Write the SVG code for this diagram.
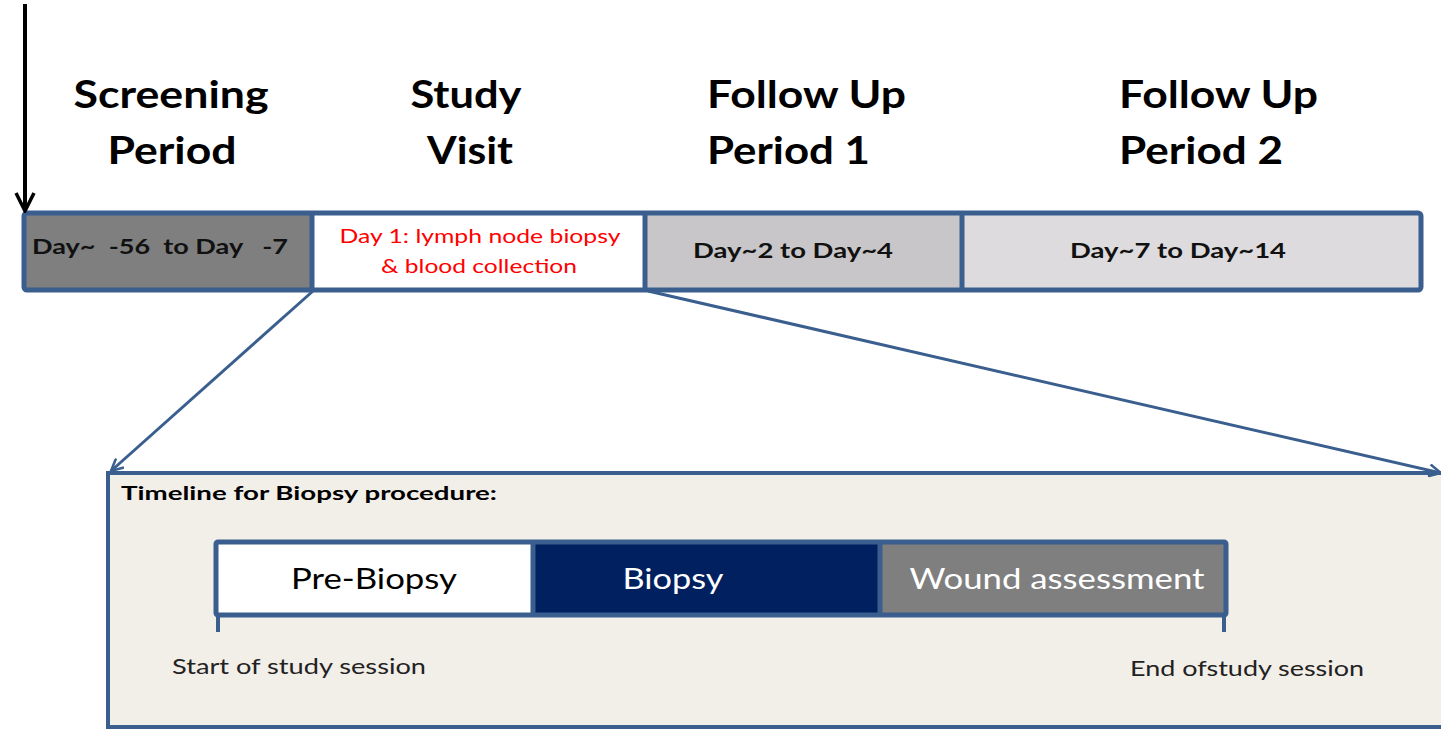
<svg xmlns="http://www.w3.org/2000/svg" width="1441" height="730" viewBox="0 0 1441 730">
  <style>
    .hdr { font-family: Lato, "Liberation Sans", sans-serif; font-weight: bold; font-size: 38px; fill: #000; }
    .bar { font-family: Lato, "Liberation Sans", sans-serif; font-weight: bold; font-size: 20px; fill: #111; }
    .red { font-family: Lato, "Liberation Sans", sans-serif; font-size: 19px; fill: #ff0000; }
    .seg { font-family: Lato, "Liberation Sans", sans-serif; font-size: 28px; }
    .note { font-family: Lato, "Liberation Sans", sans-serif; font-size: 21px; fill: #222; }
    .title { font-family: Lato, "Liberation Sans", sans-serif; font-weight: bold; font-size: 19px; fill: #000; }
    .blue { stroke: #3a5f8f; }
  </style>
  <defs>
    <marker id="openBlue" viewBox="0 0 14 14" refX="13" refY="7" markerWidth="14" markerHeight="14" markerUnits="userSpaceOnUse" orient="auto">
      <path d="M1,1 L13,7 L1,13" fill="none" stroke="#3a5f8f" stroke-width="2.5"/>
    </marker>
    <marker id="openBlack" viewBox="0 0 22 22" refX="20" refY="11" markerWidth="22" markerHeight="22" markerUnits="userSpaceOnUse" orient="auto">
      <path d="M2,2 L20,11 L2,20" fill="none" stroke="#000" stroke-width="3.5"/>
    </marker>
  </defs>
  <rect width="1441" height="730" fill="#ffffff"/>

  <!-- headers -->
  <g id="hdr-screening">
    <text class="hdr" x="171" y="108" text-anchor="middle" textLength="195" lengthAdjust="spacingAndGlyphs">Screening</text>
    <text class="hdr" x="172" y="164" text-anchor="middle" textLength="129" lengthAdjust="spacingAndGlyphs">Period</text>
  </g>
  <g id="hdr-study">
    <text class="hdr" x="466" y="108" text-anchor="middle" textLength="111" lengthAdjust="spacingAndGlyphs">Study</text>
    <text class="hdr" x="470" y="164" text-anchor="middle" textLength="86" lengthAdjust="spacingAndGlyphs">Visit</text>
  </g>
  <g id="hdr-fu1">
    <text class="hdr" x="707" y="108" textLength="199" lengthAdjust="spacingAndGlyphs">Follow Up</text>
    <text class="hdr" x="707" y="164" textLength="163" lengthAdjust="spacingAndGlyphs">Period 1</text>
  </g>
  <g id="hdr-fu2">
    <text class="hdr" x="1119" y="108" textLength="199" lengthAdjust="spacingAndGlyphs">Follow Up</text>
    <text class="hdr" x="1119" y="164" textLength="164" lengthAdjust="spacingAndGlyphs">Period 2</text>
  </g>

  <!-- top timeline bar -->
  <g id="seg-screening">
    <rect x="24" y="213" width="288" height="77" fill="#7f7f7f"/>
    <text class="bar" x="32" y="254" textLength="256" lengthAdjust="spacingAndGlyphs" xml:space="preserve">Day~  -56  to Day   -7</text>
  </g>
  <g id="seg-study">
    <rect x="312" y="213" width="333" height="77" fill="#ffffff"/>
    <text class="red" x="480" y="243" text-anchor="middle" textLength="281" lengthAdjust="spacingAndGlyphs">Day 1: lymph node biopsy</text>
    <text class="red" x="479" y="273" text-anchor="middle" textLength="196" lengthAdjust="spacingAndGlyphs">&amp; blood collection</text>
  </g>
  <g id="seg-fu1">
    <rect x="645" y="213" width="317" height="77" fill="#c8c6c8"/>
    <text class="bar" x="793" y="258" text-anchor="middle" textLength="200" lengthAdjust="spacingAndGlyphs">Day~2 to Day~4</text>
  </g>
  <g id="seg-fu2">
    <rect x="962" y="213" width="459" height="77" fill="#dddbde"/>
    <text class="bar" x="1178" y="258" text-anchor="middle" textLength="216" lengthAdjust="spacingAndGlyphs">Day~7 to Day~14</text>
  </g>
  <g id="bar-frame" fill="none" class="blue" stroke-width="5">
    <rect x="24" y="213" width="1397" height="77" rx="3"/>
    <line x1="312" y1="213" x2="312" y2="290"/>
    <line x1="645" y1="213" x2="645" y2="290"/>
    <line x1="962" y1="213" x2="962" y2="290"/>
  </g>

  <!-- detail box -->
  <g id="detail-box">
    <rect x="108" y="473" width="1340" height="254" fill="#f2eee8" class="blue" stroke-width="4"/>
    <text class="title" x="121" y="500" textLength="376" lengthAdjust="spacingAndGlyphs">Timeline for Biopsy procedure:</text>
  </g>
  <g id="pre-biopsy">
    <rect x="216" y="542" width="317" height="73" fill="#ffffff"/>
    <text class="seg" x="374" y="589" text-anchor="middle" fill="#000" textLength="166" lengthAdjust="spacingAndGlyphs">Pre-Biopsy</text>
  </g>
  <g id="biopsy">
    <rect x="533" y="542" width="347" height="73" fill="#002060"/>
    <text class="seg" x="673" y="589" text-anchor="middle" fill="#ffffff" textLength="101" lengthAdjust="spacingAndGlyphs">Biopsy</text>
  </g>
  <g id="wound">
    <rect x="880" y="542" width="346" height="73" fill="#7f7f7f"/>
    <text class="seg" x="1057" y="589" text-anchor="middle" fill="#ffffff" textLength="295" lengthAdjust="spacingAndGlyphs">Wound assessment</text>
  </g>
  <g id="inner-frame" fill="none" class="blue" stroke-width="5">
    <rect x="216" y="542" width="1010" height="73" rx="2"/>
    <line x1="533" y1="542" x2="533" y2="615"/>
    <line x1="880" y1="542" x2="880" y2="615"/>
    <line x1="218" y1="615" x2="218" y2="632" stroke-width="4"/>
    <line x1="1224" y1="615" x2="1224" y2="632" stroke-width="4"/>
  </g>
  <g id="start-label">
    <text class="note" x="172" y="674" textLength="254" lengthAdjust="spacingAndGlyphs">Start of study session</text>
  </g>
  <g id="end-label">
    <text class="note" x="1130" y="676" textLength="234" lengthAdjust="spacingAndGlyphs">End ofstudy session</text>
  </g>

  <!-- connectors -->
  <g id="connectors" fill="none">
    <line x1="25" y1="4" x2="25" y2="211" stroke="#000" stroke-width="4" marker-end="url(#openBlack)"/>
    <line x1="313" y1="291" x2="111" y2="471" class="blue" stroke-width="3" marker-end="url(#openBlue)"/>
    <line x1="648" y1="291" x2="1441" y2="473" class="blue" stroke-width="3" marker-end="url(#openBlue)"/>
  </g>
</svg>
